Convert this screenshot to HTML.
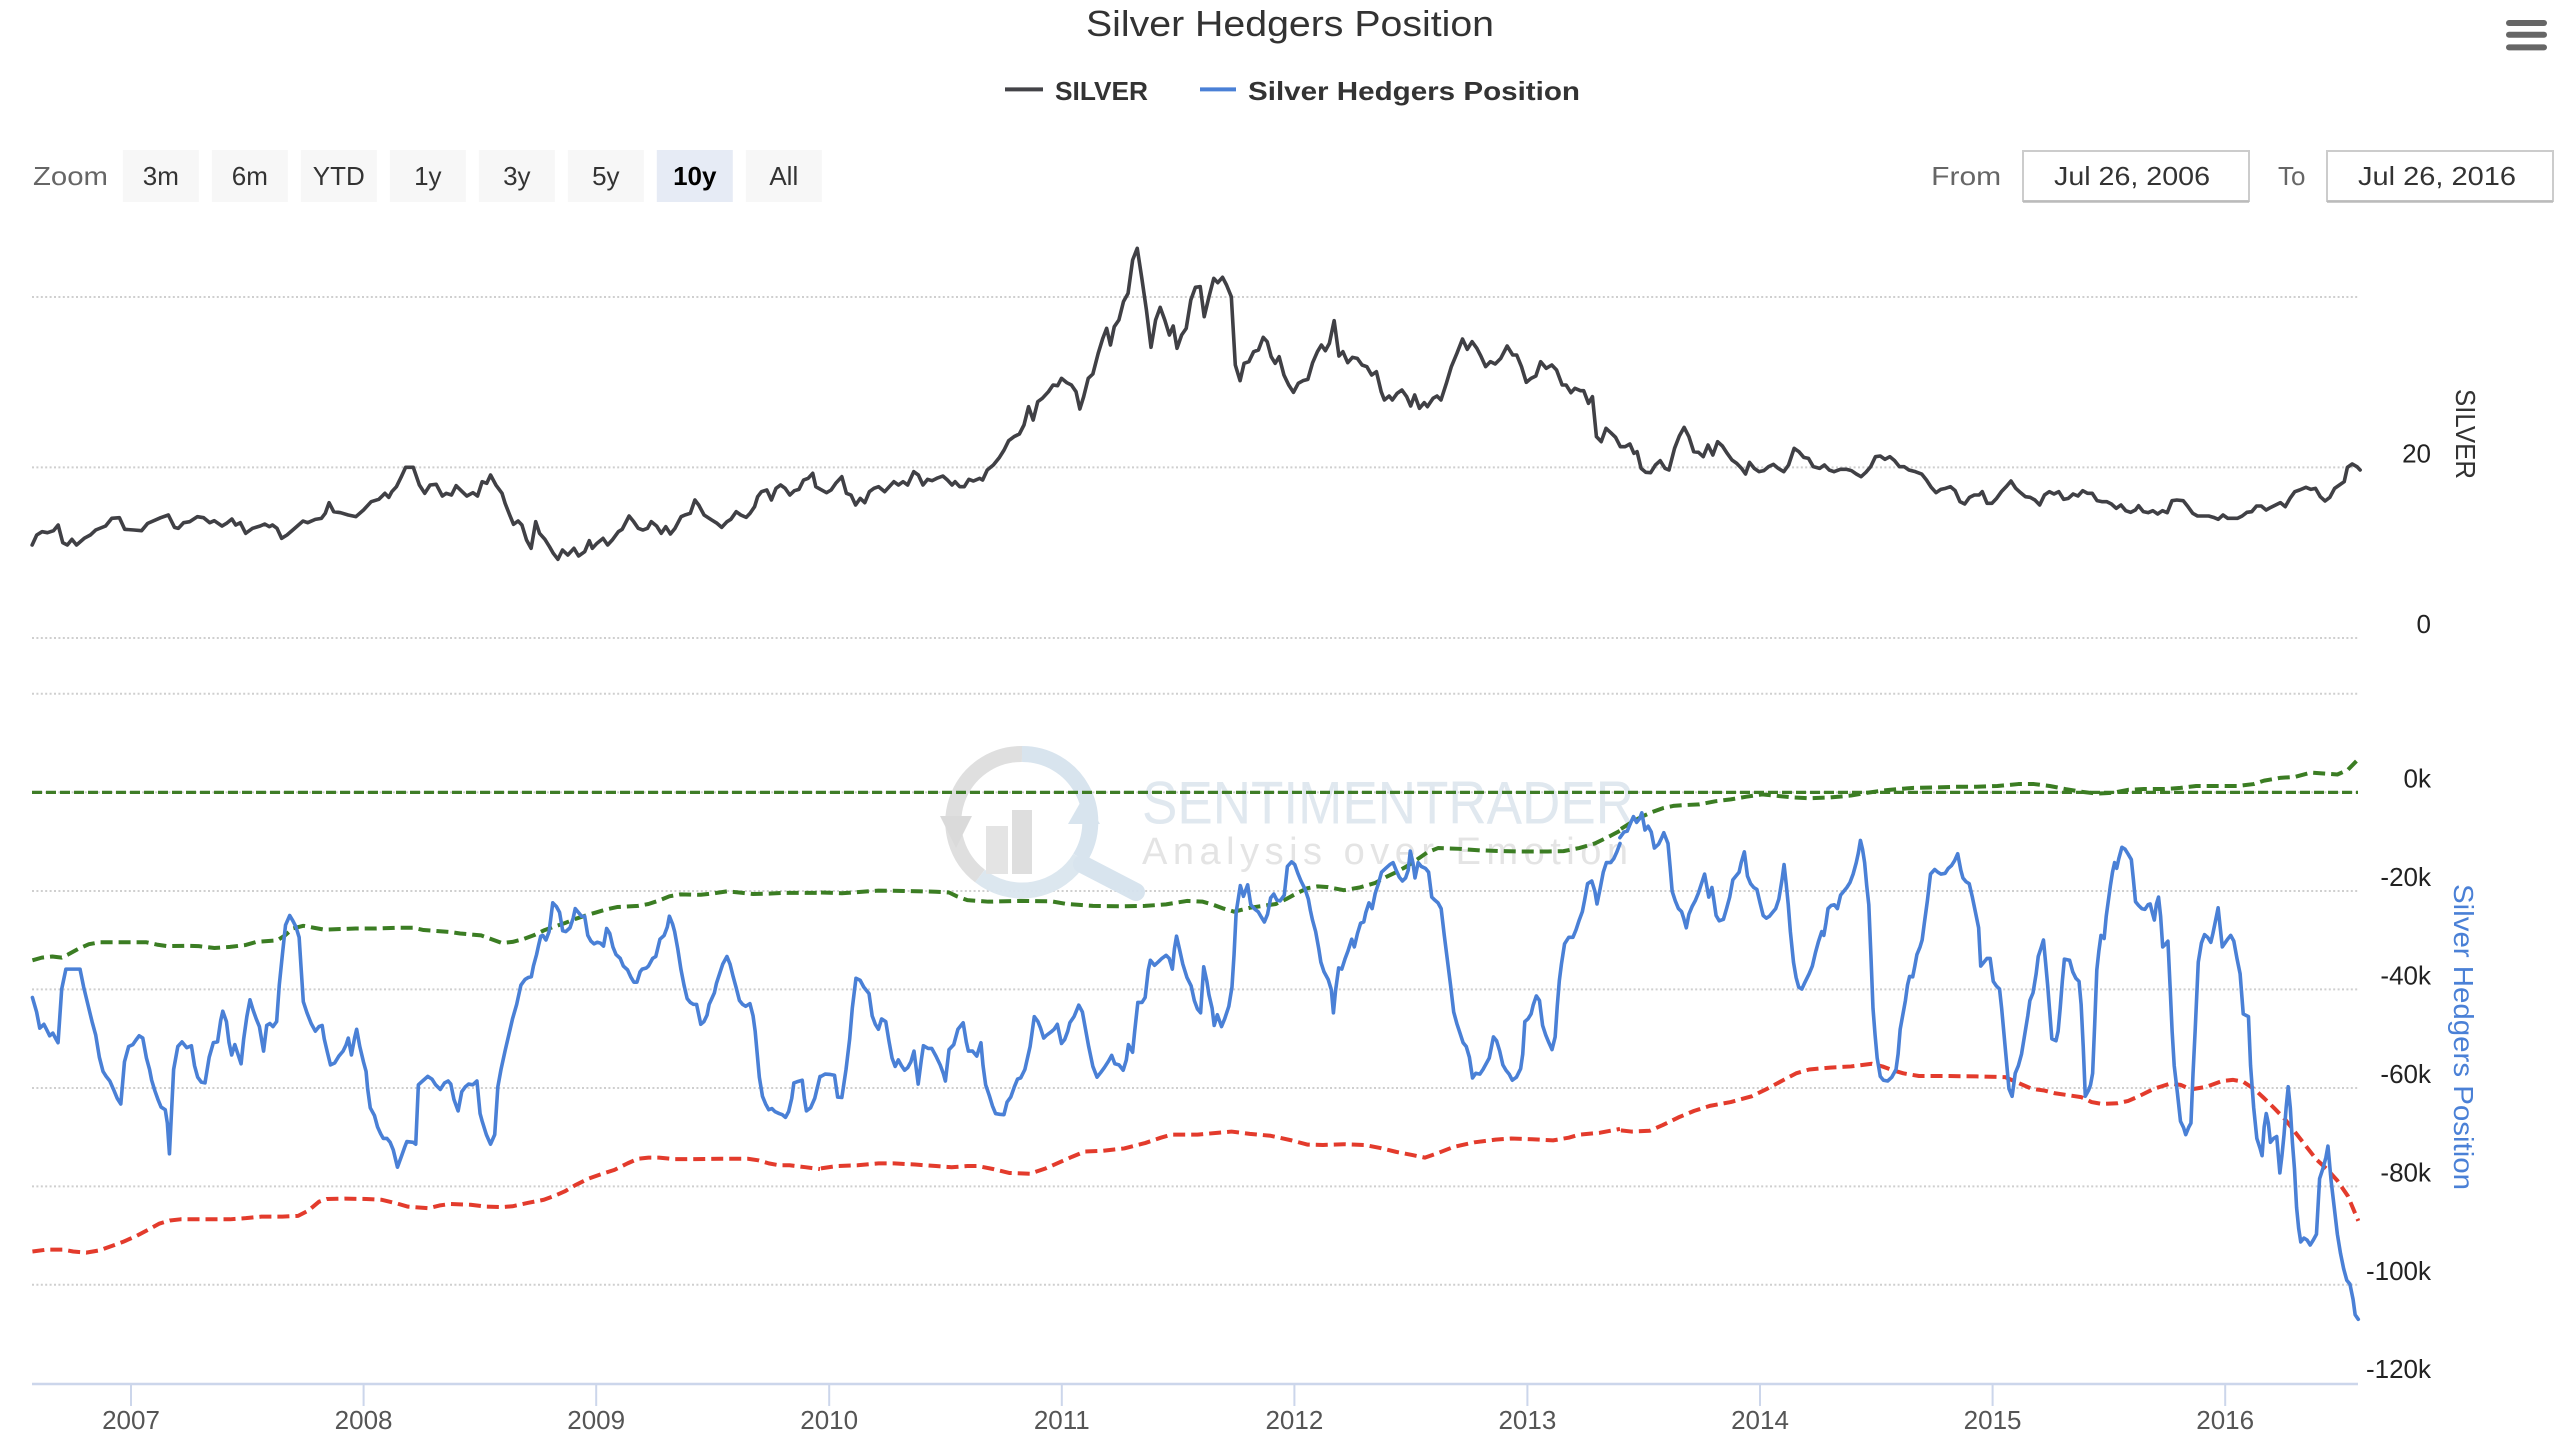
<!DOCTYPE html>
<html>
<head>
<meta charset="utf-8">
<style>
html,body{margin:0;padding:0;background:#fff;}
svg{display:block;}
text{font-family:"Liberation Sans",Arial,sans-serif;}
</style>
</head>
<body>
<svg width="2572" height="1450" viewBox="0 0 1286 725" xmlns="http://www.w3.org/2000/svg">
<rect x="0" y="0" width="1286" height="725" fill="#ffffff"/>

<!-- Title -->
<text x="645" y="18" text-anchor="middle" font-size="18" fill="#333333" textLength="204" lengthAdjust="spacingAndGlyphs">Silver Hedgers Position</text>

<!-- Legend -->
<line x1="502.5" y1="44.7" x2="521.5" y2="44.7" stroke="#434348" stroke-width="2"/>
<text x="527.5" y="50" font-size="13" font-weight="bold" fill="#333333" textLength="46.5" lengthAdjust="spacingAndGlyphs">SILVER</text>
<line x1="600" y1="44.7" x2="618" y2="44.7" stroke="#4a80d6" stroke-width="2"/>
<text x="624" y="50" font-size="13" font-weight="bold" fill="#333333" textLength="166" lengthAdjust="spacingAndGlyphs">Silver Hedgers Position</text>

<!-- Hamburger -->
<rect x="1253" y="10" width="20.5" height="3" rx="1.5" fill="#666666"/>
<rect x="1253" y="15.9" width="20.5" height="3" rx="1.5" fill="#666666"/>
<rect x="1253" y="22.2" width="20.5" height="3" rx="1.5" fill="#666666"/>

<!-- Range selector -->
<text x="16.5" y="92.6" font-size="13" fill="#666666" textLength="37.5" lengthAdjust="spacingAndGlyphs">Zoom</text>
<g font-size="13" fill="#333333" text-anchor="middle">
<rect x="61.4" y="75" width="38" height="26" fill="#f7f7f7"/><text x="80.4" y="92.6">3m</text>
<rect x="105.9" y="75" width="38" height="26" fill="#f7f7f7"/><text x="124.9" y="92.6">6m</text>
<rect x="150.4" y="75" width="38" height="26" fill="#f7f7f7"/><text x="169.4" y="92.6">YTD</text>
<rect x="194.9" y="75" width="38" height="26" fill="#f7f7f7"/><text x="213.9" y="92.6">1y</text>
<rect x="239.4" y="75" width="38" height="26" fill="#f7f7f7"/><text x="258.4" y="92.6">3y</text>
<rect x="283.9" y="75" width="38" height="26" fill="#f7f7f7"/><text x="302.9" y="92.6">5y</text>
<rect x="328.4" y="75" width="38" height="26" fill="#e6ebf5"/><text x="347.4" y="92.6" font-weight="bold" fill="#000000">10y</text>
<rect x="372.9" y="75" width="38" height="26" fill="#f7f7f7"/><text x="391.9" y="92.6">All</text>
</g>

<text x="965.6" y="92.6" font-size="13" fill="#666666" textLength="35" lengthAdjust="spacingAndGlyphs">From</text>
<rect x="1011.5" y="75.5" width="113" height="25" fill="#ffffff" stroke="#cccccc" stroke-width="1"/>
<line x1="1011.5" y1="100.8" x2="1124.5" y2="100.8" stroke="#bbbbbb" stroke-width="1.2"/>
<text x="1066" y="92.6" font-size="13" fill="#333333" text-anchor="middle" textLength="78" lengthAdjust="spacingAndGlyphs">Jul 26, 2006</text>
<text x="1139" y="92.6" font-size="13" fill="#666666">To</text>
<rect x="1163.5" y="75.5" width="113" height="25" fill="#ffffff" stroke="#cccccc" stroke-width="1"/>
<line x1="1163.5" y1="100.8" x2="1276.5" y2="100.8" stroke="#bbbbbb" stroke-width="1.2"/>
<text x="1218.5" y="92.6" font-size="13" fill="#333333" text-anchor="middle" textLength="79" lengthAdjust="spacingAndGlyphs">Jul 26, 2016</text>

<!-- Grid lines -->
<g stroke="#cfcfcf" stroke-width="1" stroke-dasharray="1,1.2">
<line x1="16" y1="148.5" x2="1179" y2="148.5"/>
<line x1="16" y1="233.7" x2="1179" y2="233.7"/>
<line x1="16" y1="319" x2="1179" y2="319"/>
<line x1="16" y1="346.9" x2="1179" y2="346.9"/>
<line x1="16" y1="396.2" x2="1179" y2="396.2"/>
<line x1="16" y1="445.5" x2="1179" y2="445.5"/>
<line x1="16" y1="494.7" x2="1179" y2="494.7"/>
<line x1="16" y1="544" x2="1179" y2="544"/>
<line x1="16" y1="593.2" x2="1179" y2="593.2"/>
<line x1="16" y1="642.4" x2="1179" y2="642.4"/>
</g>

<!-- Watermark -->
<g opacity="0.95">
<path d="M 511 377 A 34 34 0 0 0 490 438" fill="none" stroke="#dedede" stroke-width="8"/>
<path d="M 511 377 A 34 34 0 0 1 540 429" fill="none" stroke="#d6e3ee" stroke-width="8"/>
<path d="M 490 438 A 34 34 0 0 0 540 429" fill="none" stroke="#dbe6ef" stroke-width="8"/>
<polygon points="470,408 486,408 478,424" fill="#d9d9d9"/>
<polygon points="534,412 550,412 542,398" fill="#d6e3ee"/>
<line x1="541" y1="432" x2="568" y2="446" stroke="#d6e3ee" stroke-width="9" stroke-linecap="round"/>
<rect x="493" y="413" width="11" height="24" fill="#e3e3e3"/>
<rect x="506" y="405" width="10" height="32" fill="#dddddd"/>
<text x="571" y="411.8" font-size="30" fill="#dfe7ef" textLength="246" lengthAdjust="spacingAndGlyphs">SENTIMENTRADER</text>
<text x="571" y="432" font-size="19" fill="#e3e3e3" textLength="247" lengthAdjust="spacing" letter-spacing="4">Analysis over Emotion</text>
</g>

<!-- Green 0k line -->
<line x1="16" y1="396.2" x2="1179" y2="396.2" stroke="#3f7d27" stroke-width="1.6" stroke-dasharray="5,2"/>

<!-- Green upper band -->
<g fill="none" stroke="#3b7d23" stroke-width="4" stroke-dasharray="12,6" stroke-linejoin="round">
<polyline vector-effect="non-scaling-stroke" transform="translate(0,370) scale(0.26148,0.19157)" points="62,575 80,568 100,565 118,568 130,560 150,545 170,533 190,528 220,528 260,528 280,528 300,534 320,538 360,537 380,538 410,543 440,540 470,535 490,527 530,523 545,510 560,492 580,485 600,490 620,495 680,492 720,492 760,490 790,490 810,496 830,498 860,501 880,505 920,510 940,520 960,530 980,527 1000,520 1020,510 1040,497 1060,487 1080,478 1100,467 1120,458 1140,450 1160,442 1180,436 1220,433 1240,428 1260,419 1280,408 1300,403 1340,404 1360,401 1390,395 1420,399 1440,402 1470,401 1500,399 1568,399"/>
<polyline vector-effect="non-scaling-stroke" transform="translate(400,370) scale(0.26148,0.19157)" points="40,398 80,400 110,397 150,393 200,394 260,396 285,398 300,408 320,418 360,422 420,420 480,421 510,428 560,433 620,434 660,433 700,429 740,420 770,422 790,430 810,440 830,448 860,438 890,432 910,428 930,415 950,400 970,387 990,382 1010,384 1040,392 1070,385 1100,373 1120,358 1140,345 1160,330 1180,312 1200,293 1220,282 1260,284 1300,288 1340,290 1380,291 1430,291 1460,290 1490,282 1520,270 1550,250 1568,237"/>
<polyline vector-effect="non-scaling-stroke" transform="translate(800,370) scale(0.26148,0.19157)" points="40,232 60,215 80,200 100,188 120,178 140,172 160,170 190,168 220,160 250,155 280,148 310,142 340,146 370,150 400,152 440,150 480,145 510,138 540,132 570,128 600,125 640,124 680,122 720,122 760,120 800,115 830,115 860,120 890,128 920,135 950,140 980,138 1010,130 1040,128 1080,128 1110,125 1140,120 1180,120 1220,120 1250,115 1270,106 1300,99 1330,96 1360,85 1390,88 1410,90 1430,78 1450,50"/>
</g>

<!-- Red lower band -->
<g fill="none" stroke="#e33b2c" stroke-width="4" stroke-dasharray="12,6" stroke-linejoin="round">
<polyline vector-effect="non-scaling-stroke" transform="translate(0,370) scale(0.26148,0.19157)" points="62,1335 90,1330 120,1330 140,1335 165,1338 190,1332 215,1320 235,1310 260,1295 285,1277 305,1262 325,1254 345,1251 400,1251 440,1251 470,1248 500,1244 540,1244 570,1242 590,1228 610,1205 625,1198 660,1197 700,1198 730,1200 760,1210 780,1218 820,1222 840,1215 860,1211 900,1213 930,1218 960,1219 980,1217 1010,1208 1040,1200 1060,1190 1080,1178 1100,1162 1125,1145 1150,1133 1175,1122 1200,1105 1220,1093 1240,1090 1260,1090 1290,1094 1330,1094 1380,1093 1430,1093 1450,1097 1470,1105 1490,1110 1510,1110 1540,1115 1568,1120"/>
<polyline vector-effect="non-scaling-stroke" transform="translate(400,370) scale(0.26148,0.19157)" points="40,1118 70,1112 110,1110 150,1105 180,1105 220,1108 260,1112 290,1115 320,1112 340,1112 370,1120 400,1130 440,1132 470,1118 500,1100 520,1088 545,1074 580,1072 620,1066 660,1052 690,1038 710,1030 760,1030 800,1025 825,1022 860,1028 900,1033 940,1045 970,1056 1000,1057 1040,1055 1080,1057 1110,1065 1140,1075 1170,1083 1195,1090 1220,1078 1250,1062 1290,1050 1330,1043 1360,1040 1400,1042 1440,1045 1470,1038 1490,1030 1530,1025 1568,1015"/>
<polyline vector-effect="non-scaling-stroke" transform="translate(800,370) scale(0.26148,0.19157)" points="40,1019 60,1022 95,1020 120,1005 150,985 180,968 210,955 250,945 290,930 320,910 350,888 375,870 400,860 440,855 480,852 520,845 540,852 560,862 580,870 610,877 660,877 720,878 775,880 800,895 825,910 850,915 870,922 900,928 920,932 940,945 960,950 990,948 1010,942 1030,930 1060,910 1090,897 1110,900 1130,912 1160,905 1190,890 1210,887 1230,892 1250,910 1270,935 1290,962 1310,990 1330,1025 1350,1060 1370,1095 1390,1120 1410,1150 1430,1190 1450,1255"/>
</g>

<!-- Blue hedgers position -->
<g fill="none" stroke="#4a80d6" stroke-width="3.6" stroke-linejoin="round" stroke-linecap="round">
<polyline vector-effect="non-scaling-stroke" transform="translate(0,370) scale(0.26148,0.19157)" points="62,672 70,710 76,752 84,742 90,758 95,772 101,765 106,778 111,790 118,650 126,598 135,598 145,598 153,598 160,645 168,690 176,735 183,770 190,828 197,865 203,878 210,890 218,915 224,935 231,950 238,840 246,800 254,795 260,783 266,772 273,778 280,830 286,860 290,888 296,915 302,938 308,958 316,965 320,1000 324,1080 332,860 340,800 348,788 357,803 366,798 372,850 378,880 385,893 392,895 400,828 408,790 416,788 422,732 426,708 433,735 438,790 443,822 449,795 455,820 461,845 466,780 472,722 478,678 484,705 490,728 496,748 504,812 510,745 516,740 522,748 529,735 534,640 540,560 546,483 554,458 560,472 566,488 572,515 576,600 580,683 587,712 595,740 603,760 610,748 616,745 620,780 626,815 632,848 640,843 648,825 656,812 662,795 666,778 672,822 678,778 682,755 688,800 695,840 700,865 703,910 708,960 716,980 722,1010 728,1028 733,1040 740,1040 746,1050 752,1070 760,1115 768,1085 774,1062 778,1048 790,1050 795,1055 800,900 808,890 818,878 826,885 833,900 842,912 850,895 857,890 862,898 868,938 876,968 883,918 890,905 896,898 904,900 912,890 918,975 922,995 930,1030 938,1055 946,1030 952,905 958,860 966,810 972,775 980,728 988,690 996,640 1004,625 1010,620 1016,618 1020,590 1026,560 1030,535 1034,512 1038,510 1044,522 1050,500 1057,425 1064,435 1070,450 1076,498 1082,500 1090,490 1096,465 1100,440 1106,450 1112,460 1118,460 1124,510 1130,525 1136,532 1142,528 1148,530 1154,538 1160,492 1166,505 1172,540 1178,560 1186,570 1192,590 1200,600 1206,618 1212,632 1218,632 1224,605 1228,598 1236,595 1240,590 1248,570 1254,565 1262,520 1270,510 1276,488 1280,460 1286,480 1290,500 1296,545 1302,598 1308,640 1314,675 1320,685 1326,690 1332,690 1340,742 1346,735 1352,718 1356,690 1362,672 1366,660 1370,635 1376,610 1382,585 1390,565 1396,585 1402,618 1408,648 1414,680 1420,690 1426,695 1434,688 1440,720 1444,760 1448,820 1452,880 1458,930 1464,950 1470,965 1476,962 1482,970 1490,975 1496,978 1502,985 1508,970 1514,935 1518,895 1524,892 1534,888 1538,935 1542,968 1550,960 1558,935 1568,878"/>
<polyline vector-effect="non-scaling-stroke" transform="translate(400,370) scale(0.26148,0.19157)" points="40,878 48,872 58,873 66,875 72,932 80,933 88,860 95,780 100,700 107,622 115,627 122,645 132,662 138,720 144,742 150,755 156,728 164,735 170,785 176,830 182,852 188,835 194,850 200,862 206,855 212,840 218,812 226,898 232,835 236,798 245,805 252,805 260,825 268,848 274,870 278,890 285,808 294,795 302,755 312,738 318,788 322,812 330,812 338,825 346,790 350,850 355,900 362,928 368,955 374,975 382,977 390,978 396,945 403,932 410,905 416,885 422,882 430,860 440,800 448,722 455,735 460,752 466,778 472,770 480,762 486,755 492,742 500,792 506,782 512,760 516,738 524,722 533,692 540,710 546,755 552,800 560,852 568,880 575,868 582,855 590,838 596,823 602,845 610,848 618,862 624,835 628,795 636,815 640,760 646,685 654,685 660,672 666,600 670,575 678,588 686,578 692,570 700,562 706,570 712,598 716,545 720,512 726,548 732,585 740,620 748,642 754,680 760,702 766,712 772,592 778,630 782,665 788,700 792,745 798,717 806,748 812,728 820,695 826,645 830,560 834,450 842,380 848,408 856,378 862,430 870,442 876,448 882,462 888,475 894,455 900,412 906,402 912,418 918,420 926,405 932,330 940,318 946,325 952,348 958,368 966,390 972,415 976,445 980,470 986,500 992,545 996,580 1002,605 1010,625 1016,652 1020,712 1024,655 1030,595 1036,598 1042,572 1048,550 1055,520 1060,540 1066,505 1072,478 1078,475 1082,450 1088,425 1094,440 1100,400 1106,375 1112,345 1120,335 1128,325 1134,320 1140,340 1146,358 1152,368 1158,360 1163,340 1167,290 1172,320 1176,360 1182,320 1188,330 1196,335 1202,345 1208,410 1214,418 1220,425 1226,440 1232,510 1238,575 1244,640 1250,710 1256,740 1262,765 1268,790 1274,800 1280,828 1286,882 1292,870 1300,872 1306,860 1312,845 1318,830 1326,775 1332,785 1338,812 1344,848 1350,862 1356,872 1362,888 1370,880 1378,858 1382,820 1386,735 1392,728 1398,715 1402,692 1408,668 1414,680 1420,745 1426,770 1432,790 1438,808 1444,775 1448,695 1452,628 1456,585 1462,532 1470,515 1478,515 1484,495 1490,470 1496,448 1500,420 1506,375 1514,368 1520,395 1524,428 1530,388 1536,345 1542,320 1550,320 1556,310 1562,292 1568,270"/>
<polyline vector-effect="non-scaling-stroke" transform="translate(800,370) scale(0.26148,0.19157)" points="38,255 46,240 52,238 58,218 64,200 70,215 76,205 80,190 86,235 92,225 98,240 104,282 112,272 118,255 122,242 130,270 134,330 138,395 144,420 150,440 156,448 160,465 165,490 170,455 176,435 182,420 188,400 194,375 200,350 204,380 208,410 214,385 218,420 222,458 228,472 236,468 242,440 248,410 254,365 260,355 266,345 270,320 276,292 282,355 288,375 294,385 300,390 306,425 312,458 318,465 324,460 330,450 336,440 342,415 348,365 352,325 356,375 360,430 364,500 370,580 375,620 380,645 386,650 392,632 400,610 406,590 412,555 418,525 424,500 428,510 432,478 436,440 442,432 448,430 454,440 460,405 466,395 472,385 478,372 484,350 490,320 494,295 498,262 502,285 506,320 510,380 514,430 518,560 522,700 526,770 530,830 536,878 542,888 550,890 558,880 566,860 570,820 574,755 580,710 584,680 588,640 592,617 598,618 602,590 606,560 612,540 616,522 620,480 626,420 632,350 640,338 646,345 652,350 660,348 666,335 672,328 678,315 684,297 690,340 694,360 700,370 706,375 712,410 718,450 724,490 728,590 734,580 740,570 746,570 752,630 758,642 764,650 768,700 772,760 776,820 782,910 788,930 794,870 800,850 806,820 812,770 818,720 822,680 828,660 834,610 838,565 844,540 848,522 852,580 856,640 860,710 864,780 872,785 876,760 880,700 884,630 888,572 898,575 904,605 910,622 916,630 920,690 924,800 928,930 934,915 938,900 942,870 946,740 950,600 954,550 958,510 964,518 968,460 972,420 976,380 980,345 984,320 988,335 992,310 998,280 1004,285 1010,298 1016,312 1020,365 1024,422 1030,432 1036,440 1042,442 1048,430 1052,428 1056,450 1060,470 1064,428 1068,410 1072,460 1076,540 1080,535 1086,525 1090,640 1094,760 1098,850 1104,920 1110,995 1116,1012 1120,1030 1126,1010 1130,1000 1134,870 1138,760 1144,580 1150,530 1156,508 1162,515 1168,528 1172,505 1178,465 1182,438 1186,490 1190,540 1196,528 1200,520 1206,510 1212,525 1218,570 1224,610 1230,715 1240,722 1244,850 1250,960 1256,1040 1262,1065 1266,1085 1270,1010 1274,975 1278,1000 1282,1050 1288,1040 1294,1035 1300,1130 1304,1085 1308,1030 1312,960 1316,905 1320,960 1324,1050 1328,1120 1332,1220 1336,1275 1340,1310 1346,1300 1352,1305 1358,1318 1364,1305 1370,1290 1376,1145 1382,1120 1388,1090 1392,1060 1398,1150 1404,1220 1410,1290 1416,1340 1422,1380 1428,1410 1434,1420 1440,1460 1444,1500 1450,1512"/>
</g>

<!-- Silver price -->
<g fill="none" stroke="#404045" stroke-width="3.6" stroke-linejoin="round" stroke-linecap="round">
<polyline vector-effect="non-scaling-stroke" transform="translate(0,110) scale(0.38265,0.16667)" points="42,975 48,945 55,935 62,938 70,932 76,915 82,968 88,975 94,958 100,975 110,955 118,945 125,930 138,918 146,895 156,893 163,928 175,930 185,932 193,910 210,893 220,885 228,922 233,925 240,908 248,905 258,890 266,893 274,908 280,902 290,918 296,910 303,897 308,915 314,908 321,940 330,925 340,918 346,912 352,920 356,915 362,925 368,955 375,945 385,925 396,903 402,908 412,898 420,895 425,880 430,848 436,875 445,878 455,885 465,890 475,870 485,845 495,838 503,820 508,832 512,815 518,800 524,772 530,742 540,742 548,795 555,820 562,795 570,793 578,828 583,820 590,825 596,797 604,815 610,828 618,818 624,828 630,785 636,790 641,765 648,795 656,820 660,850 666,885 671,913 677,903 682,915 688,960 694,985 700,905 705,940 712,958 718,980 723,1000 729,1018 735,990 742,1005 750,985 756,1008 764,995 770,962 774,985 780,970 788,955 794,975 800,960 808,935 813,928 822,888 828,905 834,925 840,930 846,925 851,905 858,918 864,940 870,920 876,942 882,925 890,890 895,885 902,880 908,840 913,855 920,885 930,900 937,910 943,922 950,905 955,898 962,875 968,885 975,892 980,880 986,860 990,830 995,815 1002,810 1008,840 1014,805 1020,795 1026,805 1032,825 1038,812 1044,808 1050,780 1056,775 1062,760 1066,800 1072,808 1080,818 1086,810 1092,790 1100,770 1106,820 1112,825 1118,855 1124,835 1130,848 1136,815 1142,805 1148,800 1156,815 1162,800 1168,785 1174,795 1180,785 1186,795 1194,755 1200,765 1206,795 1212,778 1218,782 1224,775 1232,768 1238,780 1244,795 1248,785 1254,800 1260,800 1266,778 1272,783 1280,775 1284,780 1290,750 1298,735 1306,712 1312,690 1318,662 1325,650 1332,642 1338,615 1344,560 1350,600 1356,545 1362,535 1370,515 1376,495 1382,497 1387,475 1394,488 1400,495 1406,515 1411,567 1416,530 1422,475 1428,462 1435,400 1441,355 1446,325 1451,375 1456,320 1462,300 1468,245 1474,220 1480,120 1486,85 1492,175 1498,270 1504,382 1510,300 1516,262 1522,300 1528,345 1533,318 1538,385 1544,345 1550,325 1556,240 1562,202 1568,200"/>
<polyline vector-effect="non-scaling-stroke" transform="translate(575,110) scale(0.3986,0.16667)" points="63,200 68,290 74,230 80,175 85,188 91,172 96,195 102,230 107,435 113,482 118,430 124,425 130,395 136,390 142,352 147,365 152,410 157,430 162,410 168,465 174,495 180,517 186,490 192,482 198,478 204,428 210,395 215,375 220,392 225,370 231,302 237,408 242,395 248,428 254,412 260,415 266,435 272,440 278,465 284,455 290,515 294,540 300,528 304,540 310,520 316,510 322,530 327,558 332,525 338,565 344,548 348,560 355,535 360,528 365,540 372,488 378,440 385,400 392,357 398,388 404,365 410,385 415,408 421,440 427,425 433,432 440,415 448,378 455,405 460,405 466,440 472,487 478,475 484,468 490,425 497,445 504,435 510,450 517,495 522,495 528,518 533,505 540,512 544,512 550,550 555,530 560,650 566,665 572,625 578,638 584,652 590,680 596,680 602,672 607,700 611,695 616,745 622,757 628,758 634,735 640,722 646,745 651,750 658,685 664,648 670,622 676,650 682,695 688,697 694,710 700,675 706,705 712,665 718,678 724,700 730,720 736,730 742,745 747,762 752,727 758,745 764,755 770,752 776,740 782,733 788,745 795,755 801,735 808,685 814,695 820,712 826,715 832,740 840,745 846,735 852,750 858,755 866,748 874,748 880,752 886,762 892,770 898,757 904,740 910,710 916,708 922,718 928,710 934,722 940,740 946,740 952,750 960,755 968,762 974,780 980,802 986,818 992,808 998,805 1004,800 1010,812 1016,845 1022,852 1028,832 1034,825 1040,825 1044,815 1050,850 1056,850 1062,835 1068,815 1074,800 1080,783 1086,805 1092,818 1098,830 1104,832 1110,840 1116,855 1122,825 1128,815 1134,822 1140,815 1146,838 1152,835 1158,822 1164,828 1170,812 1176,820 1182,820 1188,842 1194,845 1200,845 1206,852 1212,865 1218,855 1224,872 1230,877 1236,870 1240,857 1246,875 1252,878 1258,872 1264,882 1270,872 1276,878 1282,842 1288,840 1296,842 1302,860 1308,880 1314,888 1320,888 1328,888 1334,892 1340,898 1346,885 1352,895 1358,895 1364,895 1370,888 1376,877 1382,875 1388,858 1394,858 1400,870 1406,862 1412,855 1418,848 1424,860 1430,835 1436,815 1442,810 1450,802 1456,808 1462,805 1468,830 1474,843 1480,832 1486,805 1492,795 1498,785 1502,742 1508,732 1514,740 1518,750"/>
</g>

<!-- X axis -->
<line x1="16" y1="692" x2="1179" y2="692" stroke="#ccd6eb" stroke-width="1.2"/>
<g stroke="#ccd6eb" stroke-width="1">
<line x1="65.5" y1="692" x2="65.5" y2="703"/>
<line x1="181.8" y1="692" x2="181.8" y2="703"/>
<line x1="298.1" y1="692" x2="298.1" y2="703"/>
<line x1="414.6" y1="692" x2="414.6" y2="703"/>
<line x1="530.9" y1="692" x2="530.9" y2="703"/>
<line x1="647.2" y1="692" x2="647.2" y2="703"/>
<line x1="763.7" y1="692" x2="763.7" y2="703"/>
<line x1="880" y1="692" x2="880" y2="703"/>
<line x1="996.3" y1="692" x2="996.3" y2="703"/>
<line x1="1112.6" y1="692" x2="1112.6" y2="703"/>
</g>
<g font-size="13" fill="#555555" text-anchor="middle">
<text x="65.5" y="714.5">2007</text>
<text x="181.8" y="714.5">2008</text>
<text x="298.1" y="714.5">2009</text>
<text x="414.6" y="714.5">2010</text>
<text x="530.9" y="714.5">2011</text>
<text x="647.2" y="714.5">2012</text>
<text x="763.7" y="714.5">2013</text>
<text x="880" y="714.5">2014</text>
<text x="996.3" y="714.5">2015</text>
<text x="1112.6" y="714.5">2016</text>
</g>

<!-- Y axis labels -->
<g font-size="13" fill="#222222" text-anchor="end">
<text x="1215.5" y="231.2">20</text>
<text x="1215.5" y="316.5">0</text>
<text x="1215.5" y="393.7">0k</text>
<text x="1215.5" y="443">-20k</text>
<text x="1215.5" y="492.2">-40k</text>
<text x="1215.5" y="541.5">-60k</text>
<text x="1215.5" y="590.7">-80k</text>
<text x="1215.5" y="640">-100k</text>
<text x="1215.5" y="689">-120k</text>
</g>

<!-- Axis titles -->
<text transform="translate(1228,217) rotate(90)" font-size="14" fill="#333333" text-anchor="middle" textLength="45" lengthAdjust="spacingAndGlyphs">SILVER</text>
<text transform="translate(1227,518.5) rotate(90)" font-size="14" fill="#4a80d6" text-anchor="middle" textLength="153" lengthAdjust="spacingAndGlyphs">Silver Hedgers Position</text>
</svg>
</body>
</html>
